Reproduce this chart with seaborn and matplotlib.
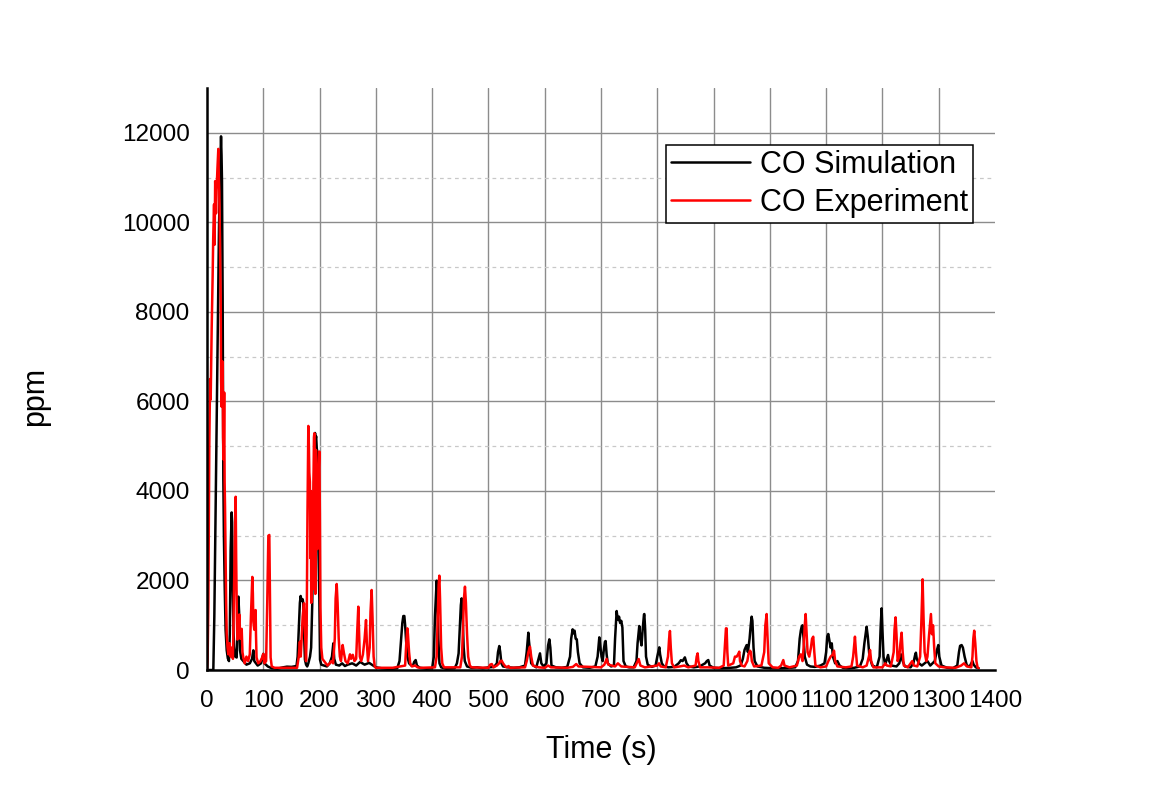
import numpy as np
import pandas as pd
import seaborn as sns
import matplotlib
matplotlib.use("Agg")
import matplotlib.pyplot as plt
from matplotlib.ticker import MultipleLocator

# ---- CO concentration time series (ppm) ----
sim_time = [
    0, 10, 11.2, 13, 16, 19, 21.3, 23, 24.9, 25.8, 26.6, 27.8, 29, 30, 31.4, 33, 35, 37, 39, 40.5,
    42, 43.8, 44.6, 45.6, 47, 48, 50, 52.7, 54, 55.7, 57, 58.6, 61, 64.5, 70, 76, 80, 82.3, 84, 90,
    96, 100, 102, 108, 115, 125, 135, 142, 150, 155, 159, 161, 163, 165, 166.4, 168, 170, 171, 172.5, 174,
    176, 178, 180, 183, 185, 187, 189, 191, 191.9, 193, 193.9, 195, 196, 197.5, 199.6, 200.8, 203, 208, 213, 218,
    222, 224.4, 226, 229, 235, 240, 245, 250, 258, 265, 272, 280, 288, 295, 300, 310, 320, 330, 338, 342,
    345, 347, 348.8, 350.6, 352, 354, 356, 359, 363, 366, 368, 370.7, 373, 378, 390, 400, 403, 405, 408, 409,
    411, 413, 416, 425, 440, 444, 447, 449, 451, 452.4, 454, 456, 458, 462, 470, 480, 490, 500, 510, 515,
    517, 519.3, 521, 523, 526, 535, 545, 555, 565, 568, 570.9, 572, 574, 576, 580, 585, 589, 591.6, 594, 598,
    603, 606, 608.2, 610, 612, 620, 630, 640, 645, 647, 649.6, 651, 653, 655, 657, 659, 662, 668, 680, 690,
    694, 697, 699, 701, 703, 705, 707, 708.2, 710, 712, 718, 723, 725, 727.8, 729, 731, 732, 734, 736, 738,
    740, 744, 750, 758, 763, 765, 768, 770, 772, 774, 776.4, 777, 778.5, 780, 783, 790, 797, 800, 803.6, 805,
    808, 812, 820, 830, 838, 842, 845, 849, 852, 856, 865, 875, 885, 888, 890.6, 893, 900, 915, 930, 940,
    948, 952, 955, 958.8, 961, 964, 966, 967.6, 969, 971, 973, 978, 990, 1005, 1020, 1035, 1045, 1050, 1053, 1055,
    1056.5, 1058, 1060, 1062, 1066, 1072, 1080, 1090, 1097, 1100, 1102, 1103.8, 1106, 1108, 1110, 1112, 1116, 1120, 1124, 1130,
    1140, 1150, 1160, 1165, 1168, 1171.9, 1174, 1177, 1182, 1190, 1195, 1197, 1198.6, 1200, 1202, 1205, 1208, 1210, 1212, 1216,
    1225, 1230, 1233, 1236, 1240, 1250, 1255, 1258, 1259.5, 1261, 1265, 1270, 1275, 1280, 1285, 1293, 1297, 1299.3, 1301, 1305,
    1315, 1325, 1333, 1336, 1338, 1340.7, 1343, 1346, 1350, 1355, 1360, 1362, 1366, 1371,
]
sim_ppm = [
    0, 0, 0, 1200, 4280, 7500, 9880, 11000, 11920, 11500, 10920, 8280, 4280, 3000, 1880, 900, 440, 260, 200, 800,
    2680, 3520, 3300, 1880, 900, 520, 300, 280, 900, 1640, 1300, 440, 250, 200, 120, 150, 250, 440, 200, 100,
    150, 360, 150, 80, 40, 30, 60, 75, 70, 80, 90, 300, 900, 1500, 1654, 1550, 1580, 1490, 800, 230,
    120, 80, 150, 300, 500, 1500, 3500, 4800, 5295, 5155, 5220, 4950, 4880, 3000, 1580, 230, 120, 100, 80, 150,
    300, 596, 250, 120, 100, 150, 90, 120, 150, 100, 180, 120, 160, 100, 60, 40, 30, 30, 40, 200,
    700, 1050, 1206, 1207, 1000, 600, 300, 150, 100, 100, 180, 223, 100, 50, 30, 40, 300, 1200, 1996, 1800,
    700, 150, 60, 30, 40, 150, 370, 900, 1450, 1601, 1300, 500, 200, 80, 50, 60, 40, 60, 70, 150,
    400, 536, 400, 150, 80, 60, 50, 60, 100, 400, 834, 650, 400, 150, 100, 60, 250, 372, 150, 80,
    150, 550, 685, 500, 100, 60, 50, 70, 300, 700, 909, 820, 880, 700, 686, 400, 150, 60, 50, 80,
    300, 730, 500, 300, 200, 450, 633, 648, 350, 150, 80, 100, 700, 1318, 1200, 1117, 1192, 1050, 1100, 950,
    200, 80, 60, 60, 200, 600, 983, 700, 550, 900, 1244, 1251, 900, 300, 120, 70, 100, 300, 507, 350,
    150, 80, 60, 70, 150, 220, 200, 283, 150, 80, 60, 80, 150, 200, 223, 100, 50, 40, 50, 60,
    100, 250, 450, 558, 400, 700, 1000, 1192, 1100, 500, 200, 80, 50, 40, 40, 50, 60, 200, 700, 880,
    968, 1000, 700, 300, 120, 80, 70, 100, 150, 400, 750, 805, 650, 500, 596, 300, 150, 200, 100, 50,
    40, 50, 80, 250, 600, 968, 750, 300, 100, 60, 300, 1000, 1378, 900, 300, 120, 250, 336, 200, 100,
    80, 150, 350, 200, 80, 60, 150, 330, 387, 250, 150, 100, 150, 200, 100, 200, 450, 558, 300, 100,
    50, 40, 100, 400, 540, 558, 500, 300, 100, 80, 200, 120, 60, 40,
]

exp_time = [
    0, 1, 2.4, 4.1, 5.5, 6.5, 8.3, 10, 11, 12.5, 13.5, 14.5, 16, 17, 18.5, 20.1, 21, 21.9, 23, 24.3,
    25, 26, 27, 27.8, 28.5, 29.5, 30.5, 31.3, 32, 33, 34, 35, 36.5, 38, 40, 42, 44, 46, 48, 49.5,
    50.9, 51.8, 53, 53.9, 55.5, 57.4, 59, 60.5, 61.6, 63, 64.5, 67, 70, 73, 76, 78, 80.5, 81.5, 82.3, 84,
    85.3, 86.4, 87, 88, 91, 95, 98, 100, 102, 105, 107, 109, 110.7, 112, 113, 115, 120, 140, 160, 163,
    165, 166.5, 168, 170, 172.3, 173.5, 175.9, 177, 178.5, 180, 181, 181.8, 182.8, 183.6, 184.5, 185.2, 186, 187, 188, 189,
    190, 190.7, 191.5, 192.5, 193.6, 195, 196, 197.5, 199.6, 200.5, 201.5, 203, 205, 208, 211, 214, 218, 221, 224, 227,
    228.5, 230.4, 232, 234, 236, 238, 241, 243, 246, 250, 254, 256, 259, 262, 265, 267, 268.8, 270, 271.5, 274,
    277, 280, 282.5, 284, 286, 289, 290.5, 292.5, 294, 296, 298, 300, 330, 352, 354, 355.9, 357, 359, 361, 364,
    370, 374, 380, 405, 408, 410, 411.5, 412.8, 414, 416, 418, 421, 450, 453, 455, 456.5, 458.3, 460, 462, 464,
    467, 470, 500, 503, 506, 509, 515, 519, 521, 523.5, 526, 530, 533, 535.7, 538, 565, 568, 571, 573.8, 576,
    579, 583, 590, 600, 606, 611, 640, 650, 656, 660, 700, 706, 710, 713, 725, 730, 736, 760, 767, 770,
    778, 800, 803, 806, 815, 819, 821, 822.5, 824, 826, 830, 840, 848, 855, 868, 870, 871.7, 873, 876, 890,
    910, 918, 920, 922, 923.2, 924.5, 926, 935, 938, 941, 943.5, 945.7, 947, 950, 955, 960, 962, 964.7, 966.4, 968,
    972, 985, 990, 992, 994.3, 996, 998, 1005, 1015, 1020, 1023.9, 1026, 1035, 1048, 1052, 1055, 1058, 1060, 1062, 1063.6,
    1065, 1067, 1070, 1073, 1075, 1077.1, 1079, 1081, 1090, 1100, 1104, 1108, 1112, 1114, 1116, 1120, 1135, 1145, 1148, 1151.2,
    1153, 1155, 1165, 1172, 1176, 1178, 1180, 1184, 1200, 1205, 1208, 1215, 1220, 1221.5, 1223.4, 1225, 1227, 1230, 1232, 1234.1,
    1236, 1238, 1245, 1250, 1253, 1256, 1262, 1267, 1269, 1271.4, 1273, 1275, 1278, 1280, 1283, 1286.2, 1288, 1290, 1292, 1294,
    1300, 1310, 1330, 1340, 1345, 1350, 1358, 1360, 1361.5, 1363.1, 1365, 1367, 1369, 1371,
]
exp_ppm = [
    0, 200, 1500, 5080, 6500, 6040, 7640, 8800, 9640, 10400, 9500, 10920, 10200, 10700, 11200, 11640, 11000, 10680, 9600, 8280,
    6500, 5880, 6900, 6840, 5200, 4700, 6200, 4200, 3650, 2500, 1500, 800, 500, 350, 600, 300, 500, 250, 1800, 3000,
    3870, 2500, 1200, 680, 900, 1240, 700, 800, 920, 400, 280, 150, 300, 200, 350, 1200, 2080, 1700, 1080, 900,
    1320, 1340, 800, 280, 150, 200, 280, 360, 150, 200, 1500, 3000, 3017, 1500, 280, 80, 50, 50, 50, 300,
    633, 300, 700, 1200, 1490, 1100, 200, 800, 3500, 5452, 5000, 4410, 4200, 2500, 4000, 1500, 2010, 3300, 1800, 4000,
    5200, 5288, 4500, 1700, 4916, 3800, 2700, 4200, 4880, 3500, 1400, 500, 250, 200, 150, 100, 150, 200, 150, 700,
    1600, 1922, 1500, 700, 300, 200, 559, 400, 200, 150, 350, 250, 340, 200, 250, 900, 1415, 900, 300, 200,
    350, 700, 1117, 600, 200, 500, 1300, 1788, 1200, 300, 80, 50, 50, 100, 600, 931, 800, 400, 150, 80,
    100, 60, 50, 60, 300, 1200, 1900, 2108, 1600, 500, 150, 60, 60, 300, 1000, 1600, 1862, 1500, 800, 300,
    100, 60, 50, 120, 134, 60, 100, 150, 200, 209, 150, 80, 60, 90, 50, 60, 200, 400, 522, 300,
    100, 80, 60, 50, 100, 60, 50, 70, 134, 80, 60, 120, 250, 120, 80, 150, 80, 60, 246, 100,
    60, 100, 150, 80, 60, 300, 700, 872, 500, 150, 60, 80, 100, 60, 100, 300, 372, 200, 60, 60,
    50, 100, 500, 931, 931, 400, 100, 150, 300, 298, 350, 410, 200, 100, 80, 200, 350, 432, 400, 200,
    80, 100, 400, 1000, 1251, 700, 150, 60, 50, 100, 223, 100, 60, 100, 300, 350, 200, 500, 1000, 1251,
    900, 400, 300, 500, 700, 745, 400, 100, 60, 80, 200, 300, 350, 432, 200, 80, 60, 80, 300, 745,
    400, 100, 60, 100, 300, 447, 200, 60, 60, 150, 100, 80, 400, 900, 1177, 800, 200, 300, 600, 834,
    400, 100, 60, 150, 200, 100, 80, 300, 1000, 2026, 1200, 400, 200, 300, 800, 1251, 800, 1000, 500, 150,
    80, 60, 50, 100, 150, 80, 60, 300, 700, 879, 600, 200, 60, 40,
]

series_names = ["CO Simulation", "CO Experiment"]
series_colors = ["black", "red"]
x_ticks = list(range(0, 1401, 100))
y_ticks = list(range(0, 12001, 2000))

df = pd.concat([
    pd.DataFrame({"Time": sim_time, "ppm": sim_ppm, "Series": series_names[0]}),
    pd.DataFrame({"Time": exp_time, "ppm": exp_ppm, "Series": series_names[1]}),
], ignore_index=True)

sns.set_theme(style="white")
plt.rcParams["font.family"] = ["Liberation Sans", "DejaVu Sans"]
plt.rcParams["axes.unicode_minus"] = False
plt.rcParams["text.color"] = "black"
plt.rcParams["axes.labelcolor"] = "black"
plt.rcParams["xtick.color"] = "black"
plt.rcParams["ytick.color"] = "black"

fig = plt.figure(figsize=(11.52, 7.92), dpi=100)
ax = fig.add_axes([0.1797, 0.1540, 0.6840, 0.7349])

# grid: solid at major ticks, dashed at minor y ticks
for xv in x_ticks[1:-1]:
    ax.axvline(xv, color="#8c8c8c", lw=1.0, zorder=0)
for yv in y_ticks[1:]:
    ax.axhline(yv, color="#8c8c8c", lw=1.0, zorder=0)
for yv in range(1000, 12000, 2000):
    ax.axhline(yv, color="#c8c8c8", lw=0.9, ls=(0, (3, 3)), zorder=0)

sns.lineplot(data=df, x="Time", y="ppm", hue="Series", hue_order=series_names,
             palette=dict(zip(series_names, series_colors)), estimator=None,
             sort=False, lw=1.8, ax=ax, zorder=3)

ax.set_xlim(0, 1400)
ax.set_ylim(0, 13000)
ax.set_xticks(x_ticks)
ax.set_yticks(y_ticks)
ax.xaxis.set_minor_locator(MultipleLocator(50))
ax.yaxis.set_minor_locator(MultipleLocator(1000))

for side in ["top", "right"]:
    ax.spines[side].set_visible(False)
for side in ["left", "bottom"]:
    ax.spines[side].set_linewidth(1.8)
    ax.spines[side].set_color("black")
    ax.spines[side].set_zorder(5)

ax.tick_params(axis="both", which="major", direction="out", length=8.5, width=1.5,
               color="black", labelsize=17.5, labelcolor="black")
ax.tick_params(axis="both", which="minor", direction="out", length=4.5, width=1.5, color="black")
ax.tick_params(axis="y", which="major", pad=4)
ax.tick_params(axis="x", which="major", pad=6)

ax.set_xlabel("Time (s)", fontsize=22, color="black")
ax.set_ylabel("ppm", fontsize=22, color="black")
ax.xaxis.set_label_coords(0.5, -0.112)
ax.yaxis.set_label_coords(-0.199, 0.47)

leg = ax.legend(loc="upper right", bbox_to_anchor=(0.972, 0.902), borderaxespad=0,
                fontsize=22, frameon=True, fancybox=False, framealpha=1,
                edgecolor="black", borderpad=0.15, labelspacing=0.28,
                handlelength=2.6, handletextpad=0.33, title=None)
leg.get_frame().set_linewidth(1.1)
for text in leg.get_texts():
    text.set_color("black")
for line in leg.get_lines():
    line.set_linewidth(1.8)

fig.savefig("out.png", dpi=100, facecolor="white")
